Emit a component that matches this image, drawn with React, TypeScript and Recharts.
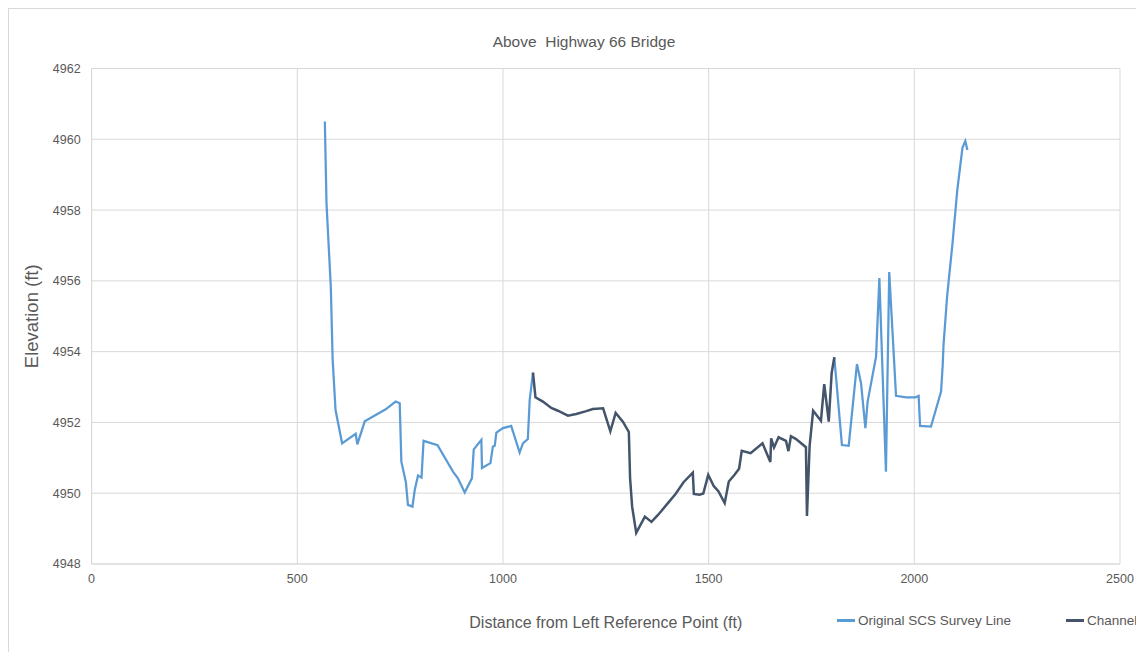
import React from 'react';
import {
  LineChart,
  Line,
  XAxis,
  YAxis,
  CartesianGrid,
  Legend,
} from 'recharts';

// survey line, left bank (ends where the channel starts)
const surveyLeftX = [
  567, 571, 581.5, 586, 593, 609, 642, 646, 664, 715, 739, 749, 753, 764, 769,
  780, 785.5, 793.5, 802, 807, 841, 878.5, 890.5, 907, 924.5, 929, 947.5, 949,
  969.5, 975.5, 980, 984, 1000, 1020, 1040.5, 1048.5, 1060.5, 1065, 1073,
];
const surveyLeftElev = [
  4960.5, 4958.2, 4955.83, 4953.77, 4952.35, 4951.41, 4951.68, 4951.38, 4952.03,
  4952.37, 4952.59, 4952.54, 4950.89, 4950.31, 4949.67, 4949.62, 4950.09,
  4950.5, 4950.44, 4951.48, 4951.36, 4950.61, 4950.42, 4950.02, 4950.42,
  4951.24, 4951.51, 4950.71, 4950.85, 4951.32, 4951.34, 4951.71, 4951.84,
  4951.9, 4951.15, 4951.41, 4951.53, 4952.64, 4953.41,
];

// survey line, right bank (starts where the channel ends)
const surveyRightX = [
  1805.5, 1824, 1840.5, 1860.5, 1870.5, 1881, 1886.5, 1907, 1915, 1931, 1939,
  1955.5, 1980, 2002.5, 2010.5, 2014, 2040.5, 2065, 2069, 2071, 2080, 2092.5,
  2104.5, 2117, 2124, 2129,
];
const surveyRightElev = [
  4953.84, 4951.36, 4951.34, 4953.65, 4953.11, 4951.84, 4952.59, 4953.86,
  4956.08, 4950.61, 4956.25, 4952.75, 4952.71, 4952.71, 4952.75, 4951.9,
  4951.88, 4952.87, 4953.62, 4954.19, 4955.6, 4957.02, 4958.57, 4959.76,
  4959.95, 4959.7,
];

const channelX = [
  1073, 1079, 1097, 1117.5, 1133.5, 1158, 1178, 1202.5, 1218.5, 1243.5, 1261,
  1274, 1291.5, 1306, 1309, 1314, 1324, 1345, 1361, 1378, 1402.5, 1419.5, 1439,
  1461.5, 1464, 1478, 1487, 1499, 1512, 1524, 1539, 1549, 1563, 1574, 1580.5,
  1602, 1631, 1650, 1652, 1659, 1670, 1688, 1694, 1700, 1712.5, 1736.5, 1739,
  1745.5, 1754, 1773, 1781, 1792, 1799, 1805.5,
];
const channelElev = [
  4953.41, 4952.71, 4952.59, 4952.41, 4952.33, 4952.19, 4952.24, 4952.32,
  4952.38, 4952.4, 4951.75, 4952.27, 4952.02, 4951.73, 4950.43, 4949.62,
  4948.88, 4949.34, 4949.19, 4949.4, 4949.74, 4949.98, 4950.31, 4950.58,
  4949.98, 4949.96, 4949.99, 4950.52, 4950.21, 4950.05, 4949.72, 4950.33,
  4950.52, 4950.69, 4951.2, 4951.13, 4951.41, 4950.88, 4951.55, 4951.29,
  4951.58, 4951.48, 4951.19, 4951.61, 4951.53, 4951.3, 4949.36, 4951.34,
  4952.33, 4952.05, 4953.08, 4952.02, 4953.39, 4953.84,
];

const xTicks = [0, 500, 1000, 1500, 2000, 2500];
const yTicks = [4948, 4950, 4952, 4954, 4956, 4958, 4960, 4962];

const SURVEY_COLOR = '#5B9BD5';
const CHANNEL_COLOR = '#44546A';
const TEXT_COLOR = '#595959';
const FONT = '"Liberation Sans", Arial, sans-serif';

const toPoints = (xs: number[], ys: number[]) =>
  xs.map((x, i) => ({ x, elev: ys[i] as number | null }));

// null point keeps the two banks from being joined under the channel
const surveyData = [
  ...toPoints(surveyLeftX, surveyLeftElev),
  { x: 1440, elev: null },
  ...toPoints(surveyRightX, surveyRightElev),
];
const channelData = toPoints(channelX, channelElev);

const legendItems = [
  { label: 'Original SCS Survey Line', color: SURVEY_COLOR },
  { label: 'Channel', color: CHANNEL_COLOR },
];

const renderLegend = () => (
  <div
    style={{
      display: 'flex',
      alignItems: 'center',
      fontFamily: FONT,
      fontSize: 13.5,
      color: TEXT_COLOR,
      whiteSpace: 'nowrap',
    }}
  >
    {legendItems.map((item, i) => (
      <div
        key={item.label}
        style={{ display: 'flex', alignItems: 'center', marginLeft: i === 0 ? 0 : 55 }}
      >
        <span
          style={{
            display: 'inline-block',
            width: 18,
            height: 3,
            background: item.color,
            marginRight: 3,
          }}
        />
        <span>{item.label}</span>
      </div>
    ))}
  </div>
);

export default function App() {
  return (
    <div
      style={{
        position: 'relative',
        width: 1150,
        height: 650,
        border: '1px solid #d9d9d9',
        background: '#fff',
      }}
    >
      <div
        style={{
          position: 'absolute',
          top: 24,
          left: 0,
          width: 1150,
          textAlign: 'center',
          fontFamily: FONT,
          fontSize: 15.5,
          color: TEXT_COLOR,
          whiteSpace: 'pre',
        }}
      >
        Above  Highway 66 Bridge
      </div>
      <LineChart
        width={1150}
        height={650}
        margin={{ top: 59.5, right: 39, bottom: 65, left: 22.6 }}
      >
        <CartesianGrid stroke="#d9d9d9" strokeWidth={1} />
        <XAxis
          type="number"
          dataKey="x"
          domain={[0, 2500]}
          ticks={xTicks}
          height={30}
          tickSize={0}
          tickMargin={10}
          axisLine={{ stroke: '#d9d9d9' }}
          tick={{ fill: TEXT_COLOR, fontSize: 12.5, fontFamily: FONT }}
          label={{
            value: 'Distance from Left Reference Point (ft)',
            position: 'bottom',
            offset: 23,
            fill: TEXT_COLOR,
            fontSize: 16,
            fontFamily: FONT,
          }}
        />
        <YAxis
          type="number"
          domain={[4948, 4962]}
          ticks={yTicks}
          width={60}
          tickSize={0}
          tickMargin={11}
          axisLine={{ stroke: '#d9d9d9' }}
          tick={{ fill: TEXT_COLOR, fontSize: 12.5, fontFamily: FONT }}
          label={{
            value: 'Elevation (ft)',
            angle: -90,
            position: 'insideLeft',
            offset: 0,
            fill: TEXT_COLOR,
            fontSize: 18.5,
            fontFamily: FONT,
            style: { textAnchor: 'middle' },
          }}
        />
        <Legend
          layout="horizontal"
          verticalAlign="middle"
          align="center"
          content={renderLegend}
          wrapperStyle={{ position: 'absolute', left: 828, top: 604, width: 'auto' }}
        />
        <Line
          data={surveyData}
          dataKey="elev"
          name="Original SCS Survey Line"
          type="linear"
          stroke={SURVEY_COLOR}
          strokeWidth={2.25}
          dot={false}
          connectNulls={false}
          isAnimationActive={false}
        />
        <Line
          data={channelData}
          dataKey="elev"
          name="Channel"
          type="linear"
          stroke={CHANNEL_COLOR}
          strokeWidth={2.5}
          dot={false}
          isAnimationActive={false}
        />
      </LineChart>
    </div>
  );
}
